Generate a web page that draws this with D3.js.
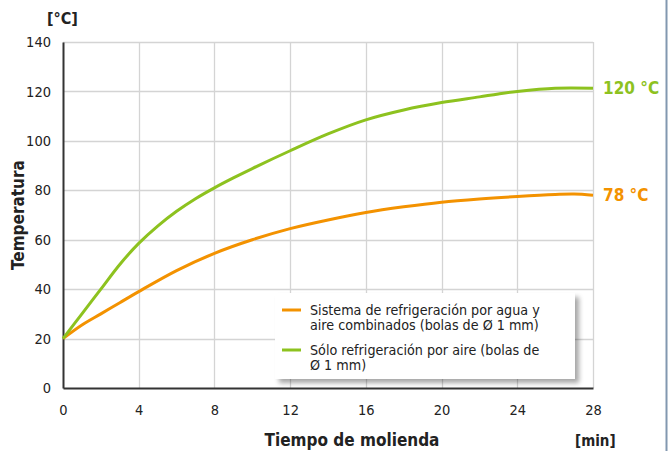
<!DOCTYPE html>
<html><head><meta charset="utf-8">
<script src="https://cdn.jsdelivr.net/npm/d3@7"></script>
<style>
body{margin:0;background:#fff;}
svg{display:block;font-family:"DejaVu Sans Condensed","DejaVu Sans",sans-serif;}
</style></head>
<body><svg id="c" width="670" height="451"></svg>
<script>
const xTicks = [0,4,8,12,16,20,24,28];
const yTicks = [0,20,40,60,80,100,120,140];
const seriesNames = ["Sistema de refrigeración por agua y|aire combinados (bolas de Ø 1 mm)", "Sólo refrigeración por aire (bolas de|Ø 1 mm)"];
const seriesColors = ["#f39200", "#8dc21f"];
const endLabels = ["78 °C", "120 °C"];
const orangeData = [[0,20],[1,25.5],[2,30],[3,34.5],[4,39],[6,47.5],[8,54.5],[10,60],[12,64.5],[14,68],[16,71],[18,73.3],[20,75.2],[22,76.5],[24,77.5],[26,78.3],[27,78.5],[28,78]];
const greenData = [[0,20],[1,30],[2,40],[3,50],[4,58.5],[5,65.5],[6,71.5],[7,76.6],[8,81],[9,85],[10,88.8],[12,96],[14,102.8],[16,108.5],[18,112.5],[20,115.5],[22,117.8],[23,119],[24,120],[26,121.3],[28,121.3]];
const allData = [orangeData, greenData];

const svg = d3.select("#c");
const x = d3.scaleLinear().domain([0,28]).range([63,593]);
const y = d3.scaleLinear().domain([0,140]).range([388,42]);

// right border
svg.append("line").attr("x1",666.5).attr("x2",666.5).attr("y1",0).attr("y2",451)
  .attr("stroke","#8298b0").attr("stroke-width",2);

// grid
const g = svg.append("g");
g.selectAll(".hg").data(yTicks.filter(d=>d>0)).join("line")
  .attr("x1",x(0)).attr("x2",x(28)).attr("y1",d=>Math.round(y(d))+0.5).attr("y2",d=>Math.round(y(d))+0.5)
  .attr("stroke","#d4d4d4").attr("stroke-width",1.3);
g.selectAll(".vg").data(xTicks.filter(d=>d>0)).join("line")
  .attr("y1",y(0)).attr("y2",y(140)).attr("x1",d=>Math.round(x(d))+0.5).attr("x2",d=>Math.round(x(d))+0.5)
  .attr("stroke","#d4d4d4").attr("stroke-width",1.3);

// axes
const xAxis = svg.append("g").attr("transform",`translate(0,${y(0)})`)
  .call(d3.axisBottom(x).tickValues(xTicks).tickSize(0).tickPadding(17));
const yAxis = svg.append("g").attr("transform",`translate(${x(0)},0)`)
  .call(d3.axisLeft(y).tickValues(yTicks).tickSize(0).tickPadding(12));
[xAxis,yAxis].forEach(a=>{
  a.select(".domain").attr("stroke","#333").attr("stroke-width",2);
  a.selectAll("text").attr("font-size",14.5).attr("fill","#222")
   .attr("font-family","'DejaVu Sans Condensed',sans-serif");
});

// lines
const line = d3.line().x(d=>x(d[0])).y(d=>y(d[1])).curve(d3.curveCatmullRom.alpha(0.5));
svg.selectAll(".ln").data(allData).join("path")
  .attr("d",line).attr("fill","none")
  .attr("stroke",(d,i)=>seriesColors[i]).attr("stroke-width",3);

// end labels
svg.selectAll(".el").data(allData).join("text")
  .attr("x",603).attr("y",d=>y(d[d.length-1][1])+6)
  .attr("fill",(d,i)=>seriesColors[i]).attr("font-weight","bold").attr("font-size",17)
  .attr("font-family","'DejaVu Sans Condensed',sans-serif")
  .text((d,i)=>endLabels[i]);

// legend
const defs = svg.append("defs");
const f = defs.append("filter").attr("id","sh").attr("x","-10%").attr("y","-10%").attr("width","130%").attr("height","130%");
f.append("feGaussianBlur").attr("in","SourceAlpha").attr("stdDeviation",2.5);
f.append("feOffset").attr("dx",4).attr("dy",4).attr("result","b");
f.append("feComponentTransfer").append("feFuncA").attr("type","linear").attr("slope",0.35);
const fm = f.append("feMerge"); fm.append("feMergeNode"); fm.append("feMergeNode").attr("in","SourceGraphic");
const leg = svg.append("g");
leg.append("rect").attr("x",275).attr("y",293).attr("width",300).attr("height",86)
  .attr("fill","#fff").attr("filter","url(#sh)");
seriesNames.forEach((n,i)=>{
  const y0 = 310 + i*40;
  leg.append("line").attr("x1",282).attr("x2",301).attr("y1",y0).attr("y2",y0)
    .attr("stroke",seriesColors[i]).attr("stroke-width",3);
  n.split("|").forEach((t,j)=>{
    leg.append("text").attr("x",310).attr("y",y0+5+j*15).attr("font-size",14.2).attr("fill","#222")
      .attr("font-family","'DejaVu Sans Condensed',sans-serif").text(t);
  });
});

// titles
svg.append("text").attr("x",47).attr("y",24).attr("font-weight","bold").attr("font-size",16)
  .attr("fill","#222").attr("font-family","'DejaVu Sans Condensed',sans-serif").text("[°C]");
svg.append("text").attr("transform","translate(24,215) rotate(-90)").attr("text-anchor","middle")
  .attr("font-weight","bold").attr("font-size",17).attr("fill","#222")
  .attr("font-family","'DejaVu Sans Condensed',sans-serif").text("Temperatura");
svg.append("text").attr("x",352).attr("y",446).attr("text-anchor","middle")
  .attr("font-weight","bold").attr("font-size",17).attr("fill","#222")
  .attr("font-family","'DejaVu Sans Condensed',sans-serif").text("Tiempo de molienda");
svg.append("text").attr("x",575).attr("y",446)
  .attr("font-weight","bold").attr("font-size",15).attr("fill","#222")
  .attr("font-family","'DejaVu Sans Condensed',sans-serif").text("[min]");
</script></body></html>
